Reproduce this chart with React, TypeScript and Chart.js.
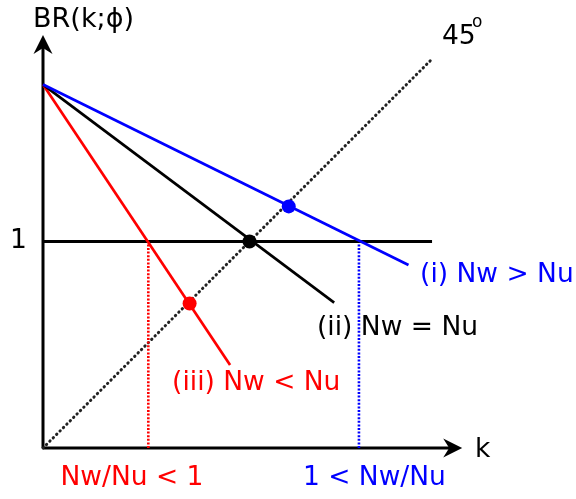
import React, { useEffect, useRef } from 'react';
import { Chart, registerables } from 'chart.js';

Chart.register(...registerables);

// ---- data (units: horizontal line BR = 1, 45° diagonal means equal units on both axes) ----
const curveLabels = ['(i) Nw > Nu', '(ii) Nw = Nu', '(iii) Nw < Nu'];
const curveColors = ['#0000FF', '#000000', '#FF0000'];
const interceptY = 1.76;
const curveEndX = [1.77, 1.41, 0.906];
const curveEndY = [0.886, 0.704, 0.402];
const equilibriumX = [1.19, 1.0, 0.71];
const equilibriumY = [1.17, 1.0, 0.70];
const thresholdX = [1.53, 0.51];
const thresholdColors = ['#0000FF', '#FF0000'];
const thresholdLabels = ['1 < Nw/Nu', 'Nw/Nu < 1'];
const unitLevel = 1;
const unitLineEndX = 1.884;
const diagonalEnd = 1.88;
const xAxisEnd = 2.03;
const yAxisEnd = 2.0;
const xAxisTitle = 'k';
const yAxisTitle = 'BR(k;ϕ)';
const yTickLabel = '1';
const diagonalLabel = '45';
const degreeMark = 'o';

const FONT = '"DejaVu Sans", Verdana, sans-serif';

const overlayPlugin = {
  id: 'overlay',
  afterDatasetsDraw(chart: any) {
    const { ctx, scales } = chart;
    const X = (v: number) => scales.x.getPixelForValue(v);
    const Y = (v: number) => scales.y.getPixelForValue(v);
    ctx.save();
    const arrow = (tx: number, ty: number, dx: number, dy: number) => {
      const L = 19, W = 9.5, N = 13;
      const px = -dy, py = dx;
      ctx.beginPath();
      ctx.moveTo(tx, ty);
      ctx.lineTo(tx - dx * L + px * W, ty - dy * L + py * W);
      ctx.lineTo(tx - dx * N, ty - dy * N);
      ctx.lineTo(tx - dx * L - px * W, ty - dy * L - py * W);
      ctx.closePath();
      ctx.fillStyle = '#000';
      ctx.fill();
    };
    arrow(X(xAxisEnd), Y(0), 1, 0);
    arrow(X(0), Y(yAxisEnd), 0, -1);

    const text = (s: string, x: number, y: number, color: string, align: CanvasTextAlign, size = 26.5) => {
      ctx.font = `${size}px ${FONT}`;
      ctx.fillStyle = color;
      ctx.textAlign = align;
      ctx.textBaseline = 'alphabetic';
      ctx.fillText(s, X(x), Y(y));
    };
    text(curveLabels[0], 1.826, 0.804, curveColors[0], 'left');
    text(curveLabels[1], 1.327, 0.547, curveColors[1], 'left');
    text(curveLabels[2], 0.625, 0.281, curveColors[2], 'left');
    text(thresholdLabels[0], 1.605, -0.179, thresholdColors[0], 'center');
    text(thresholdLabels[1], 0.431, -0.179, thresholdColors[1], 'center');
    text(xAxisTitle, 2.092, -0.044, '#000', 'left');
    text(yAxisTitle, -0.048, 2.039, '#000', 'left', 27);
    text(yTickLabel, -0.119, 0.969, '#000', 'center');
    text(diagonalLabel, 1.932, 1.956, '#000', 'left');
    text(degreeMark, 2.077, 2.039, '#000', 'left', 17);
    ctx.restore();
  },
};

export default function App() {
  const ref = useRef<HTMLCanvasElement>(null);
  useEffect(() => {
    if (!ref.current) return;
    const datasets: any[] = [];
    equilibriumX.forEach((x, i) => {
      datasets.push({
        data: [{ x, y: equilibriumY[i] }],
        pointRadius: 7,
        pointBackgroundColor: curveColors[i],
        pointBorderColor: curveColors[i],
        pointBorderWidth: 0,
        showLine: false,
        clip: false,
      });
    });
    curveEndX.forEach((x, i) => {
      datasets.push({
        data: [{ x: 0, y: interceptY }, { x, y: curveEndY[i] }],
        borderColor: curveColors[i],
        borderWidth: 2.7,
        pointRadius: 0,
        showLine: true,
        clip: false,
      });
    });
    datasets.push({
      data: [{ x: 0, y: unitLevel }, { x: unitLineEndX, y: unitLevel }],
      borderColor: '#000',
      borderWidth: 3,
      pointRadius: 0,
      showLine: true,
      clip: false,
    });
    thresholdX.forEach((x, i) => {
      datasets.push({
        data: [{ x, y: 0 }, { x, y: unitLevel }],
        borderColor: thresholdColors[i],
        borderWidth: 2.6,
        borderDash: [2, 1.6],
        pointRadius: 0,
        showLine: true,
        clip: false,
      });
    });
    datasets.push({
      data: [{ x: 0, y: 0 }, { x: diagonalEnd, y: diagonalEnd }],
      borderColor: '#222',
      borderWidth: 3,
      borderDash: [0.4, 4.4],
      borderCapStyle: 'round',
      pointRadius: 0,
      showLine: true,
      clip: false,
    });
    datasets.push({
      data: [{ x: 0, y: 0 }, { x: xAxisEnd - 0.06, y: 0 }],
      borderColor: '#000',
      borderWidth: 3,
      pointRadius: 0,
      showLine: true,
      clip: false,
    });
    datasets.push({
      data: [{ x: 0, y: 0 }, { x: 0, y: yAxisEnd - 0.06 }],
      borderColor: '#000',
      borderWidth: 3,
      pointRadius: 0,
      showLine: true,
      clip: false,
    });

    const chart = new Chart(ref.current, {
      type: 'scatter',
      data: { datasets },
      options: {
        animation: false,
        responsive: false,
        devicePixelRatio: 1,
        layout: { padding: { left: 43, right: 16.75, top: 35, bottom: 51 } },
        plugins: { legend: { display: false }, tooltip: { enabled: false } },
        scales: {
          x: { type: 'linear', min: 0, max: 2.5, display: false },
          y: { type: 'linear', min: 0, max: 2.0, display: false },
        },
      },
      plugins: [overlayPlugin],
    } as any);
    return () => chart.destroy();
  }, []);
  return (
    <div style={{ position: 'fixed', left: 0, top: 0, width: 576, height: 499, background: '#fff' }}>
      <canvas ref={ref} width={576} height={499} style={{ display: 'block' }} />
    </div>
  );
}
